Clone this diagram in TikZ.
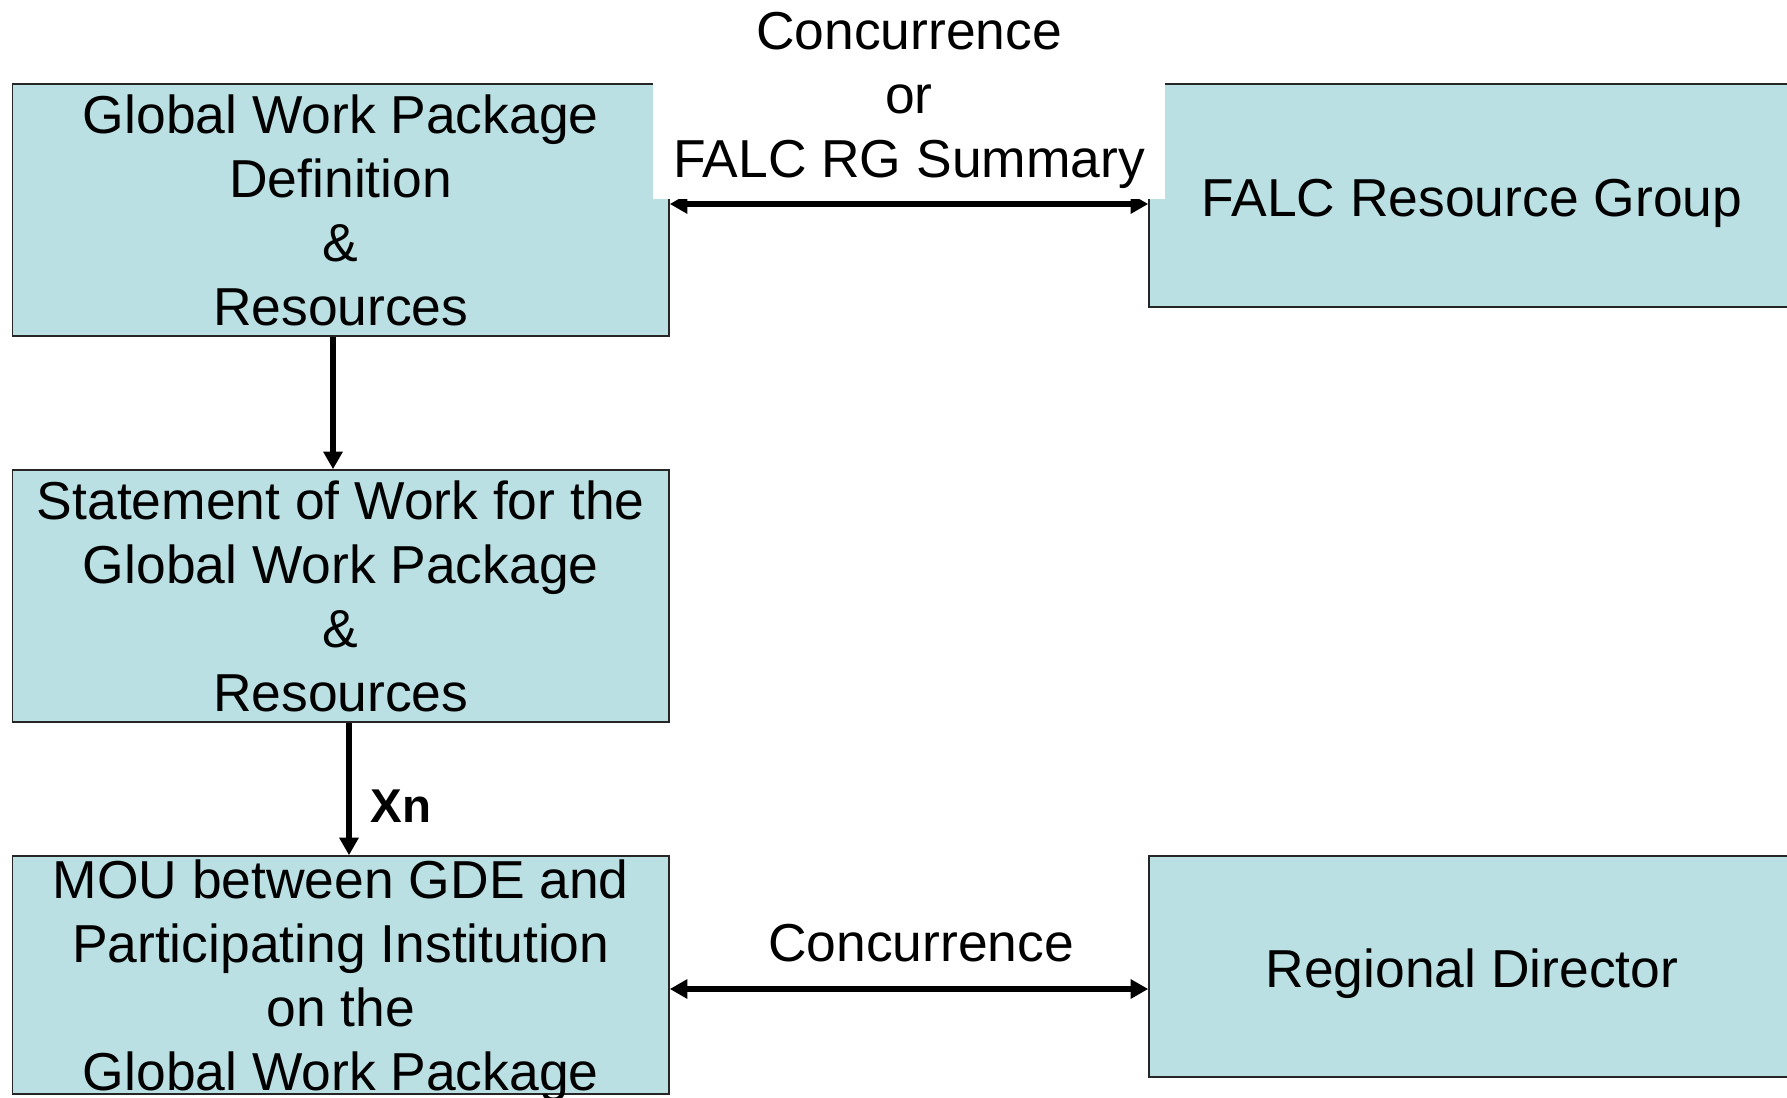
\documentclass[tikz,border=0pt]{standalone}
\usepackage{fontspec}
\setmainfont{Liberation Sans}
\usetikzlibrary{arrows.meta}
\definecolor{stageblue}{RGB}{186,224,227}
\tikzstyle{stage}     = [rectangle, draw=black!85, line width=0.9pt, fill=stageblue, align=center, inner sep=0pt, font=\fontsize{30.4}{36.4}\selectfont]
\tikzstyle{note}      = [align=center, inner sep=0pt, font=\fontsize{30.4}{36.4}\selectfont]
\tikzstyle{arrow}     = [line width=2.9pt,->,>={Triangle[length=3.5mm,width=3.7mm]}]
\tikzstyle{twoway}    = [line width=2.9pt,<->,>={Triangle[length=3.5mm,width=3.7mm]}]

\begin{document}
\begin{tikzpicture}
        \clip (0,0) rectangle (35.74,-21.94);

        \node[stage, minimum width=13.13cm, minimum height=5.04cm] (gwp) at (6.815,-4.2) {Global Work Package\\Definition\\\&\\Resources};
        \node[stage, minimum width=13.13cm, minimum height=5.04cm] (sow) at (6.815,-11.92) {Statement of Work for the\\Global Work Package\\\&\\Resources};
        \node[stage, minimum width=13.13cm, minimum height=4.76cm, text depth=0pt] (mou) at (6.815,-19.5) {MOU between GDE and\\Participating Institution\\on the\\Global Work Package};

        \node[stage, minimum width=12.92cm, minimum height=4.46cm, text height=24pt, text depth=0pt] (falc) at (29.44,-3.91) {FALC Resource Group};
        \node[stage, minimum width=12.92cm, minimum height=4.42cm, text height=24pt, text depth=0pt] (rd) at (29.44,-19.33) {Regional Director};

        \draw[arrow] ([xshift=-1.55mm]gwp.south) -- ([xshift=-1.55mm]gwp.south |- sow.north);
        \draw[arrow] ([xshift=1.65mm]sow.south) -- ([xshift=1.65mm]sow.south |- mou.north)
                node[pos=0.63, right=3.8mm, inner sep=0pt, font=\fontsize{27}{30}\selectfont\bfseries] (xn) {Xn};

        \draw[twoway] ([yshift=1.2mm]gwp.east) -- ([yshift=1.2mm]gwp.east -| falc.west);
        \draw[twoway] ([yshift=-2.8mm]mou.east) -- ([yshift=-2.8mm]mou.east -| rd.west)
                node[note, midway, above=4.8mm, xshift=2.4mm] (conc) {Concurrence};

        \node[note, fill=white, minimum width=10.24cm, minimum height=3.94cm] (summary) at (18.18,-2.01) {Concurrence\\or\\FALC RG Summary};
\end{tikzpicture}
\end{document}
